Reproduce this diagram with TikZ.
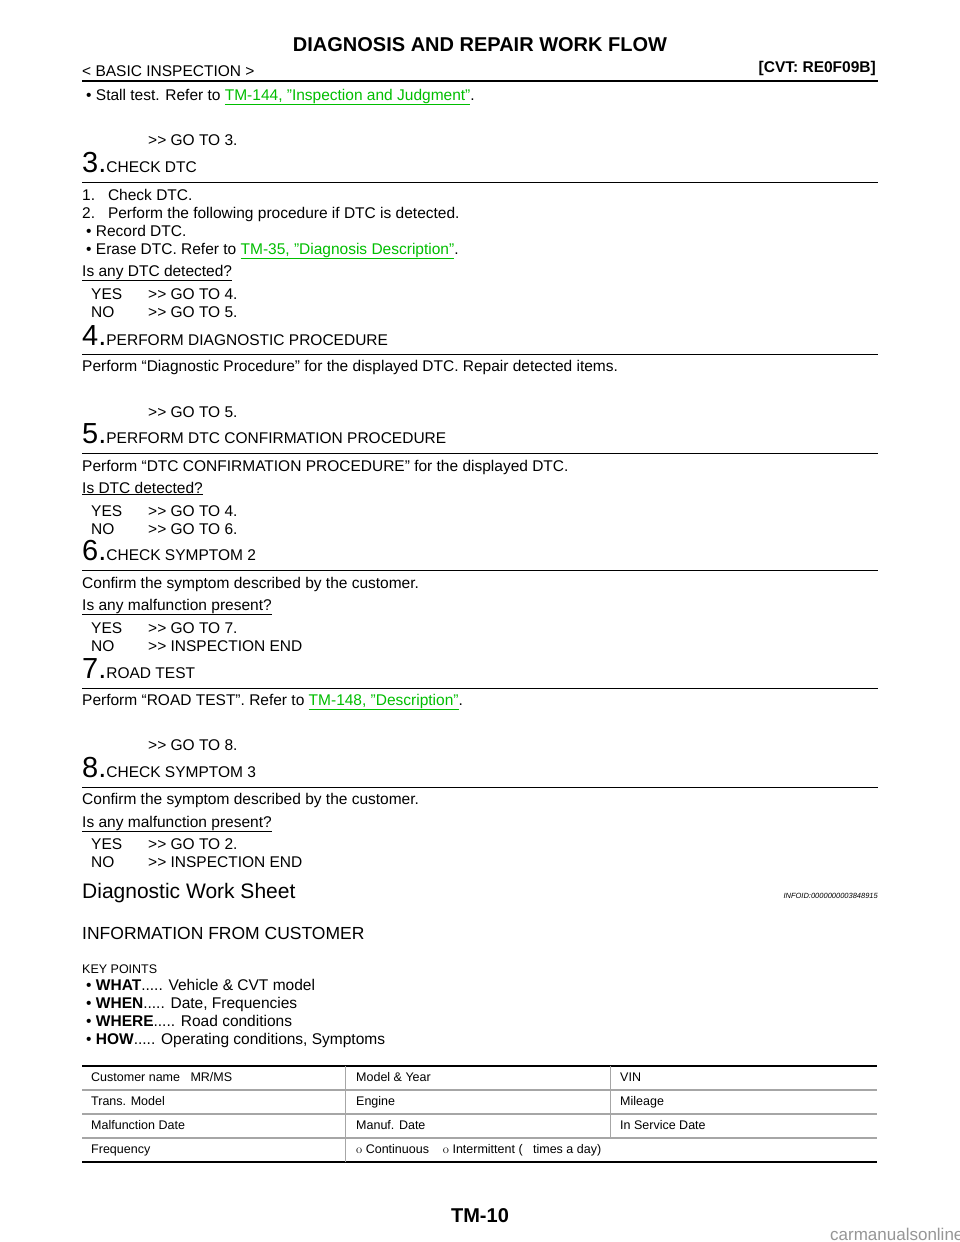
\documentclass[tikz,border=0pt]{standalone}
\usepackage{fontspec}
\setmainfont{Liberation Sans}
\definecolor{lnkc}{RGB}{0,190,0}
\definecolor{wm}{RGB}{150,150,150}
\newcommand{\lnk}[1]{{\color{lnkc}\underline{#1}}}
\newcommand{\bigno}[1]{{\fontsize{29}{29}\selectfont #1}}
\newcommand{\gt}{{>}{>}}
\newcommand{\dq}{\symbol{34}}
\begin{document}
\begin{tikzpicture}[x=1pt,y=-1pt,
  txt/.style={anchor=base west,inner sep=0pt,font=\fontsize{15.5}{17}\selectfont},
  tbl/.style={anchor=base west,inner sep=0pt,font=\fontsize{12.5}{14}\selectfont},
  rule/.style={line width=0.7pt},
  thick rule/.style={line width=2pt}]
\useasboundingbox[fill=white] (0,0) rectangle (960,1242);
\node[anchor=base,inner sep=0pt,font=\bfseries\fontsize{20}{21}\selectfont] (title) at (480,51) {DIAGNOSIS AND REPAIR WORK FLOW};
\node[txt] (sec) at (82,76) {< BASIC INSPECTION >};
\node[anchor=base east,inner sep=0pt,font=\bfseries\fontsize{15.5}{16}\selectfont] (cvt) at (876,72) {[CVT: RE0F09B]};
\draw[thick rule] (82,81) -- (878,81);
\node[txt] (l1) at (86,100) {\textbullet\ Stall test. Refer to \lnk{TM-144, \dq Inspection and Judgment\dq}.};
\node[txt] (g3) at (148,145) {\gt\ GO TO 3.};
\node[txt] (h3) at (82,172) {\bigno{3.}CHECK DTC};
\draw[rule] (82,182) -- (878,182);
\node[txt] (a1) at (82,200) {1.\ \ \ Check DTC.};
\node[txt] (a2) at (82,218) {2.\ \ \ Perform the following procedure if DTC is detected.};
\node[txt] (a3) at (86,236) {\textbullet\ Record DTC.};
\node[txt] (a4) at (86,254) {\textbullet\ Erase DTC. Refer to \lnk{TM-35, \dq Diagnosis Description\dq}.};
\node[txt] (q3) at (82,276) {\underline{Is any DTC detected?}};
\node[txt] (y3) at (91,299) {YES};\node[txt] at (148,299) {\gt\ GO TO 4.};
\node[txt] (n3) at (91,317) {NO};\node[txt] at (148,317) {\gt\ GO TO 5.};
\node[txt] (h4) at (82,345) {\bigno{4.}PERFORM DIAGNOSTIC PROCEDURE};
\draw[rule] (82,354) -- (878,354);
\node[txt] (b1) at (82,371) {Perform “Diagnostic Procedure” for the displayed DTC. Repair detected items.};
\node[txt] (g5) at (148,417) {\gt\ GO TO 5.};
\node[txt] (h5) at (82,443) {\bigno{5.}PERFORM DTC CONFIRMATION PROCEDURE};
\draw[rule] (82,453) -- (878,453);
\node[txt] (c1) at (82,471) {Perform “DTC CONFIRMATION PROCEDURE” for the displayed DTC.};
\node[txt] (q5) at (82,493) {\underline{Is DTC detected?}};
\node[txt] (y5) at (91,516) {YES};\node[txt] at (148,516) {\gt\ GO TO 4.};
\node[txt] (n5) at (91,534) {NO};\node[txt] at (148,534) {\gt\ GO TO 6.};
\node[txt] (h6) at (82,560) {\bigno{6.}CHECK SYMPTOM 2};
\draw[rule] (82,570) -- (878,570);
\node[txt] (d1) at (82,588) {Confirm the symptom described by the customer.};
\node[txt] (q6) at (82,610) {\underline{Is any malfunction present?}};
\node[txt] (y6) at (91,633) {YES};\node[txt] at (148,633) {\gt\ GO TO 7.};
\node[txt] (n6) at (91,651) {NO};\node[txt] at (148,651) {\gt\ INSPECTION END};
\node[txt] (h7) at (82,678) {\bigno{7.}ROAD TEST};
\draw[rule] (82,688) -- (878,688);
\node[txt] (e1) at (82,705) {Perform “ROAD TEST”. Refer to \lnk{TM-148, \dq Description\dq}.};
\node[txt] (g8) at (148,750) {\gt\ GO TO 8.};
\node[txt] (h8) at (82,777) {\bigno{8.}CHECK SYMPTOM 3};
\draw[rule] (82,787) -- (878,787);
\node[txt] (f1) at (82,804) {Confirm the symptom described by the customer.};
\node[txt] (q8) at (82,827) {\underline{Is any malfunction present?}};
\node[txt] (y8) at (91,849) {YES};\node[txt] at (148,849) {\gt\ GO TO 2.};
\node[txt] (n8) at (91,867) {NO};\node[txt] at (148,867) {\gt\ INSPECTION END};
\node[anchor=base west,inner sep=0pt,font=\fontsize{21}{22}\selectfont] (dws) at (82,898) {Diagnostic Work Sheet};
\node[anchor=base east,inner sep=0pt,font=\itshape\fontsize{7.5}{8}\selectfont] (info) at (878,898) {INFOID:0000000003848915};
\node[anchor=base west,inner sep=0pt,font=\fontsize{17.5}{18}\selectfont] (ifc) at (82,939) {INFORMATION FROM CUSTOMER};
\node[anchor=base west,inner sep=0pt,font=\fontsize{12.5}{13}\selectfont] (kp) at (82,973) {KEY POINTS};
\node[txt] (k1) at (86,990) {\textbullet\ \textbf{WHAT}..... Vehicle \& CVT model};
\node[txt] (k2) at (86,1008) {\textbullet\ \textbf{WHEN}..... Date, Frequencies};
\node[txt] (k3) at (86,1026) {\textbullet\ \textbf{WHERE}..... Road conditions};
\node[txt] (k4) at (86,1044) {\textbullet\ \textbf{HOW}..... Operating conditions, Symptoms};
% table
\draw[line width=1.6pt] (82,1066) -- (877,1066);
\foreach \yy in {1090,1114,1138}{\draw[gray!70,line width=1.2pt] (82,\yy) -- (877,\yy);}
\draw[line width=1.6pt] (82,1162) -- (877,1162);
\draw[gray!70,line width=0.5pt] (345,1066) -- (345,1162);
\draw[gray!70,line width=0.5pt] (610,1066) -- (610,1138);
\node[tbl] (c11) at (91,1081) {Customer name\ \ \ MR/MS};
\node[tbl] (c12) at (356,1081) {Model \& Year};
\node[tbl] (c13) at (620,1081) {VIN};
\node[tbl] (c21) at (91,1105) {Trans. Model};
\node[tbl] (c22) at (356,1105) {Engine};
\node[tbl] (c23) at (620,1105) {Mileage};
\node[tbl] (c31) at (91,1129) {Malfunction Date};
\node[tbl] (c32) at (356,1129) {Manuf. Date};
\node[tbl] (c33) at (620,1129) {In Service Date};
\node[tbl] (c41) at (91,1153) {Frequency};
\node[tbl] (c42) at (356,1153) {{\fontfamily{lmr}\selectfont o} Continuous\ \ \ \ {\fontfamily{lmr}\selectfont o} Intermittent (\ \ \ times a day)};
\node[anchor=base,inner sep=0pt,font=\bfseries\fontsize{20}{21}\selectfont] (pg) at (480,1222) {TM-10};
\node[anchor=base west,inner sep=0pt,text=wm,font=\fontsize{17}{18}\selectfont] (wmk) at (830,1240) {carmanualsonline.info};
\end{tikzpicture}
\end{document}
